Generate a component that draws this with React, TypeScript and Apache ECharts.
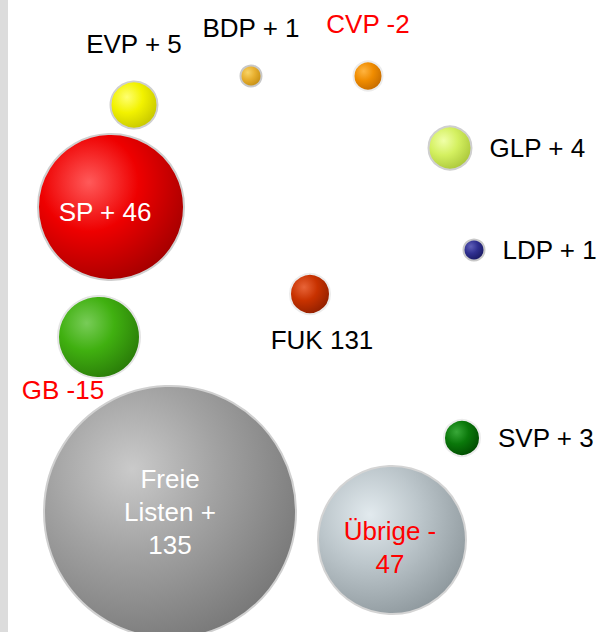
import React, { useEffect, useRef } from "react";
import * as echarts from "echarts";

const parties = ["EVP", "BDP", "CVP", "GLP", "SP", "LDP", "FUK", "GB", "SVP", "Freie Listen", "Übrige"];
const labels = ["EVP + 5", "BDP + 1", "CVP -2", "GLP + 4", "SP + 46", "LDP + 1", "FUK 131", "GB -15", "SVP + 3", "Freie\nListen +\n135", "Übrige -\n47"];
const changes = [5, 1, -2, 4, 46, 1, 131, -15, 3, 135, -47];
// packed-bubble layout (chart units) and bubble diameters
const bubbleX = [134, 251, 368, 450, 111, 474, 310, 99, 462, 170, 392];
const bubbleY = [105, 76, 76, 148, 207, 250, 294, 337, 438, 512, 540];
const bubbleSize = [49, 23, 31, 45, 148, 23, 42, 84, 38, 254, 150];

const gradients: string[][] = [
  ["#ffff70", "#f2f200", "#c4c400"],
  ["#f8d468", "#e8b030", "#c08a10"],
  ["#ffb440", "#f08c00", "#c06800"],
  ["#f0ffa8", "#d4f060", "#a8c438"],
  ["#ff5a5a", "#ee0000", "#a00000"],
  ["#6060b8", "#303090", "#16165c"],
  ["#e86438", "#c83200", "#8c1e00"],
  ["#78cc58", "#40b010", "#287808"],
  ["#38a838", "#0a780a", "#004600"],
  ["#cacaca", "#a2a2a2", "#767676"],
  ["#e2eaee", "#bcc6cb", "#8c969b"],
];
const borderColors = ["#cfcfcf", "#c8c8c8", "#ececec", "#cfcfcf", "#cfcfcf", "#c8c8c8", "#ececec", "#e4e4e4", "#ececec", "#d0d0d0", "#d4d4d4"];
const labelPlace: any[] = [
  { position: "top", distance: 24, align: "center" },
  { position: "top", distance: 24, align: "center" },
  { position: "top", distance: 24, align: "center" },
  { position: "right", distance: 17, align: "left" },
  { position: "inside", offset: [-6, 5], align: "center" },
  { position: "right", distance: 17, align: "left" },
  { position: "bottom", distance: 12, offset: [12, 0], align: "center" },
  { position: "bottom", distance: 0, offset: [-36, -2], align: "center" },
  { position: "right", distance: 17, align: "left" },
  { position: "inside", offset: [0, 0], lineHeight: 33, align: "center" },
  { position: "inside", offset: [-2, 7], lineHeight: 33, align: "center" },
];
const labelColors = ["#000", "#000", "#ff0000", "#000", "#fff", "#000", "#000", "#ff0000", "#000", "#fff", "#ff0000"];

export default function App() {
  const ref = useRef<HTMLDivElement>(null);
  useEffect(() => {
    document.body.style.margin = "0";
    const chart = echarts.init(ref.current!, null, { renderer: "svg" });
    const data = parties.map((p, i) => ({
      name: p,
      value: [bubbleX[i], bubbleY[i], changes[i]],
      symbolSize: bubbleSize[i] - 2,
      itemStyle: {
        opacity: 1,
        color: new echarts.graphic.RadialGradient(0.35, 0.33, 0.75, [
          { offset: 0, color: gradients[i][0] },
          { offset: 0.45, color: gradients[i][1] },
          { offset: 1, color: gradients[i][2] },
        ]),
        borderColor: borderColors[i],
        borderWidth: 2,
      },
      label: {
        show: true,
        formatter: labels[i],
        color: labelColors[i],
        fontSize: 26,
        fontFamily: 'Arial, "Liberation Sans", Helvetica, sans-serif',
        ...labelPlace[i],
      },
    }));
    chart.setOption({
      animation: false,
      backgroundColor: "#ffffff",
      grid: { left: 0, right: 0, top: 0, bottom: 0 },
      xAxis: { type: "value", min: 0, max: 601, show: false },
      yAxis: { type: "value", min: 0, max: 632, inverse: true, show: false },
      graphic: [
        { type: "rect", left: 0, top: 0, shape: { width: 8, height: 632 }, style: { fill: "#dcdcdc" }, z: 0 },
      ],
      series: [
        {
          type: "scatter",
          symbol: "circle",
          itemStyle: { opacity: 1 },
          emphasis: { disabled: true },
          data,
        },
      ],
    });
    return () => chart.dispose();
  }, []);
  return <div ref={ref} style={{ width: 601, height: 632 }} />;
}
